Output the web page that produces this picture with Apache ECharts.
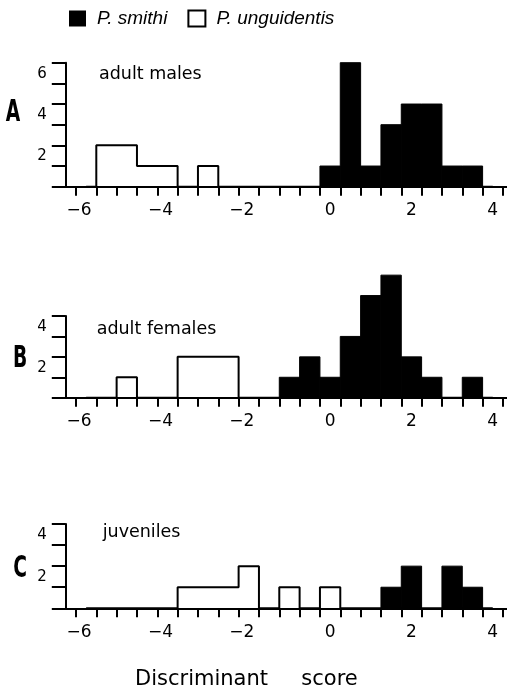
<!DOCTYPE html>
<html><head><meta charset="utf-8">
<script src="https://cdn.jsdelivr.net/npm/echarts@6/dist/echarts.min.js"></script>
<style>html,body{margin:0;padding:0;background:#fff}#c{width:507px;height:691px}</style>
</head><body><div id="c"></div>
<script>
// ---- data ----
const binCenters = [-6, -5.5, -5, -4.5, -4, -3.5, -3, -2.5, -2, -1.5, -1, -0.5, 0, 0.5, 1, 1.5, 2, 2.5, 3, 3.5, 4];
const binWidth = 0.5;
const malesSmithi        = [0,0,0,0,0,0,0,0,0,0,0,0,1,6,1,3,4,4,1,1,0];
const malesUnguidentis   = [0,2,2,1,1,0,1,0,0,0,0,0,0,0,0,0,0,0,0,0,0];
const femalesSmithi      = [0,0,0,0,0,0,0,0,0,0,1,2,1,3,5,6,2,1,0,1,0];
const femalesUnguidentis = [0,0,1,0,0,2,2,2,0,0,0,0,0,0,0,0,0,0,0,0,0];
const juvSmithi          = [0,0,0,0,0,0,0,0,0,0,0,0,0,0,0,1,2,0,2,1,0];
const juvUnguidentis     = [0,0,0,0,0,1,1,1,2,0,1,0,1,0,0,0,0,0,0,0,0];
const panelLetters = ['A', 'B', 'C'];
const panelTitles = ['adult males', 'adult females', 'juveniles'];
const yAxisMax = [6, 4, 4];
const speciesNames = ['P. smithi', 'P. unguidentis'];
const axisTitle = 'Discriminant     score';
const xMin = -6.5, xMax = 4.5, xInterval = 0.5;

const smithiSets = [malesSmithi, femalesSmithi, juvSmithi];
const unguSets = [malesUnguidentis, femalesUnguidentis, juvUnguidentis];

// ---- layout ----
const gridLeft = 65.8, gridWidth = 447.3;
const gridTops = [62.7, 316, 524];
const gridHeights = [124, 81.7, 84.3];
const titlePos = [[99, 65.6], [96.7, 320.6], [102.7, 523.3]];
const letterPos = [[13, 113], [20, 358.7], [20, 568.7]];

const FONT = 'DejaVu Sans';

function xLabel(v) {
  const r = Math.round(v);
  if (Math.abs(v - r) > 1e-6 || r % 2 !== 0) return '';
  return r < 0 ? '{neg|\u2212' + (-r) + '}' : String(r);
}
function yLabel(v) {
  return (v > 0 && v % 2 === 0) ? String(v) : '';
}

const grids = [], xAxes = [], yAxes = [], series = [], titles = [], graphics = [];
for (let i = 0; i < 3; i++) {
  grids.push({left: gridLeft, top: gridTops[i], width: gridWidth, height: gridHeights[i], outerBoundsMode: 'none', containLabel: false});
  xAxes.push({
    type: 'value', gridIndex: i, min: xMin, max: xMax, interval: xInterval,
    axisLine: {show: true, onZero: false, lineStyle: {color: '#000', width: 2}},
    axisTick: {show: false},
    minorTick: {show: true, splitNumber: 2, length: 9, lineStyle: {color: '#000', width: 2}},
    splitLine: {show: false}, minorSplitLine: {show: false},
    axisLabel: {
      formatter: xLabel, margin: 15.5, color: '#000', fontSize: 17, fontFamily: FONT,
      rich: {neg: {padding: [0, 14, 0, 0], fontSize: 17, fontFamily: FONT, color: '#000'}}
    }
  });
  yAxes.push({
    type: 'value', gridIndex: i, min: 0, max: yAxisMax[i], interval: 1,
    axisLine: {show: true, onZero: false, lineStyle: {color: '#000', width: 2}},
    axisTick: {show: true, length: 14, lineStyle: {color: '#000', width: 2}},
    splitLine: {show: false},
    axisLabel: {formatter: yLabel, margin: 19, color: '#000', fontSize: 15, fontFamily: FONT, verticalAlign: 'top', lineHeight: 22}
  });
  series.push({
    name: speciesNames[0], type: 'custom', xAxisIndex: i, yAxisIndex: i, clip: false,
    itemStyle: {color: '#000'},
    data: binCenters.map((c, j) => [c, smithiSets[i][j]]),
    renderItem: function (params, api) {
      const c = api.value(0), h = api.value(1);
      if (!h) return null;
      const tl = api.coord([c - binWidth / 2, h]);
      const br = api.coord([c + binWidth / 2, 0]);
      return {type: 'rect', shape: {x: tl[0], y: tl[1], width: br[0] - tl[0], height: br[1] - tl[1]},
              style: {fill: '#000', stroke: '#000', lineWidth: 1}};
    }
  });
  series.push({
    name: speciesNames[1], type: 'line', xAxisIndex: i, yAxisIndex: i, step: 'middle', clip: false,
    symbol: 'none', color: '#000', lineStyle: {color: '#000', width: 2},
    data: binCenters.map((c, j) => [c, unguSets[i][j]])
  });
  titles.push({text: panelTitles[i], left: titlePos[i][0], top: titlePos[i][1], padding: 0,
    textStyle: {fontFamily: FONT, fontSize: 17.5, fontWeight: 'normal', color: '#000'}});
  graphics.push({type: 'text', x: letterPos[i][0], y: letterPos[i][1], scaleX: 0.67,
    style: {text: panelLetters[i], fontFamily: '"Liberation Sans Narrow", "DejaVu Sans Condensed", sans-serif',
      fontSize: 31, fontWeight: 'bold', fill: '#000', align: 'center', verticalAlign: 'middle'}});
}
titles.push({text: axisTitle, left: 135, top: 669.2, padding: 0,
  textStyle: {fontFamily: FONT, fontSize: 21, fontWeight: 'normal', color: '#000'}});

const chart = echarts.init(document.getElementById('c'), null, {renderer: 'canvas'});
chart.setOption({
  backgroundColor: '#fff',
  animation: false,
  title: titles,
  legend: {
    left: 69, top: 9, padding: 0, itemWidth: 17, itemHeight: 16, itemGap: 20, selectedMode: false,
    textStyle: {fontFamily: 'Liberation Sans', fontStyle: 'italic', fontSize: 19, color: '#000', padding: [6, 0, 0, 6]},
    data: [
      {name: speciesNames[0], icon: 'rect', itemStyle: {color: '#000'}},
      {name: speciesNames[1], icon: 'rect', itemStyle: {color: '#fff', borderColor: '#000', borderWidth: 2}}
    ]
  },
  grid: grids, xAxis: xAxes, yAxis: yAxes, series: series, graphic: graphics
});
</script></body></html>
